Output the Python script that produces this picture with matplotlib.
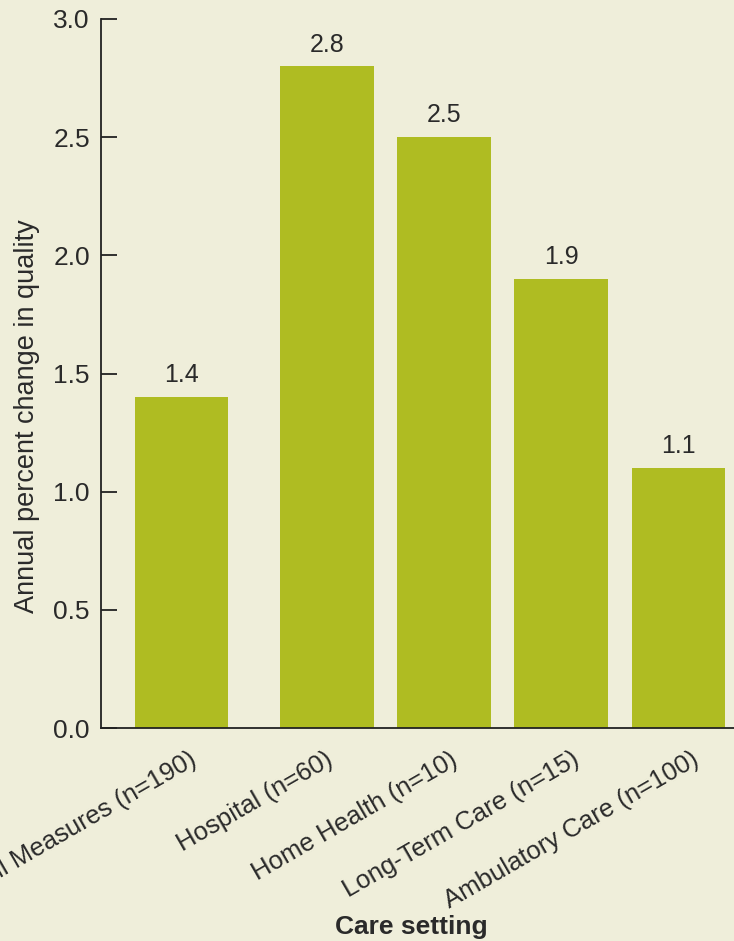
import matplotlib
matplotlib.use("Agg")
import matplotlib.pyplot as plt
import matplotlib.transforms as mtransforms

categories = ["All Measures (n=190)", "Hospital (n=60)", "Home Health (n=10)",
              "Long-Term Care (n=15)", "Ambulatory Care (n=100)"]
values = [1.4, 2.8, 2.5, 1.9, 1.1]
value_labels = ["1.4", "2.8", "2.5", "1.9", "1.1"]
yticks = [0.0, 0.5, 1.0, 1.5, 2.0, 2.5, 3.0]
ytick_labels = ["0.0", "0.5", "1.0", "1.5", "2.0", "2.5", "3.0"]

BG = "#EFEEDA"
BAR = "#AFBC22"
TXT = "#2a2a2a"

plt.rcParams["font.family"] = ["Liberation Sans", "DejaVu Sans"]

fig = plt.figure(figsize=(7.34, 9.41), dpi=100, facecolor=BG)
ax = fig.add_axes([101/734, 1 - 728/941, 1 - 101/734, (728 - 19)/941])
ax.set_facecolor(BG)

positions = [0, 1.246, 2.246, 3.246, 4.246]
bars = ax.bar(positions, values, width=0.80, color=BAR, zorder=2)

for p, v, lab in zip(positions, values, value_labels):
    ax.annotate(lab, (p, v), xytext=(0, 7), textcoords="offset points",
                ha="center", va="bottom", fontsize=18, color=TXT)

ax.set_xlim(-0.688, 4.722)
ax.set_ylim(0, 3.0)
ax.set_yticks(yticks)
ax.set_yticklabels(ytick_labels, fontsize=19, color=TXT)
ax.tick_params(axis="y", direction="in", length=11.5, width=1.3, pad=8, color="#222222")

ax.set_xticks(positions)
ax.set_xticklabels(categories, rotation=30, ha="right", va="top",
                   rotation_mode="anchor", fontsize=18.5, color=TXT)
ax.tick_params(axis="x", length=0, pad=14)

fig.canvas.draw()
renderer = fig.canvas.get_renderer()
for t in ax.get_xticklabels():
    w = t.get_window_extent(renderer).width
    shift_px = -26.5 + 0.15 * w
    offset = mtransforms.ScaledTranslation(shift_px / 100, 0, fig.dpi_scale_trans)
    t.set_transform(t.get_transform() + offset)

for s in ["top", "right"]:
    ax.spines[s].set_visible(False)
for s in ["left", "bottom"]:
    ax.spines[s].set_color("#222222")
    ax.spines[s].set_linewidth(1.3)
    ax.spines[s].set_zorder(3)

ax.set_ylabel("Annual percent change in quality", fontsize=19.5, color=TXT)
ax.yaxis.set_label_coords(-0.096, 0.44)
ax.set_xlabel("Care setting", fontsize=19, fontweight="bold", color=TXT, va="center")
ax.xaxis.set_label_coords(0.49, (728 - 927) / 709)

fig.savefig("out.png", dpi=100, facecolor=BG)
